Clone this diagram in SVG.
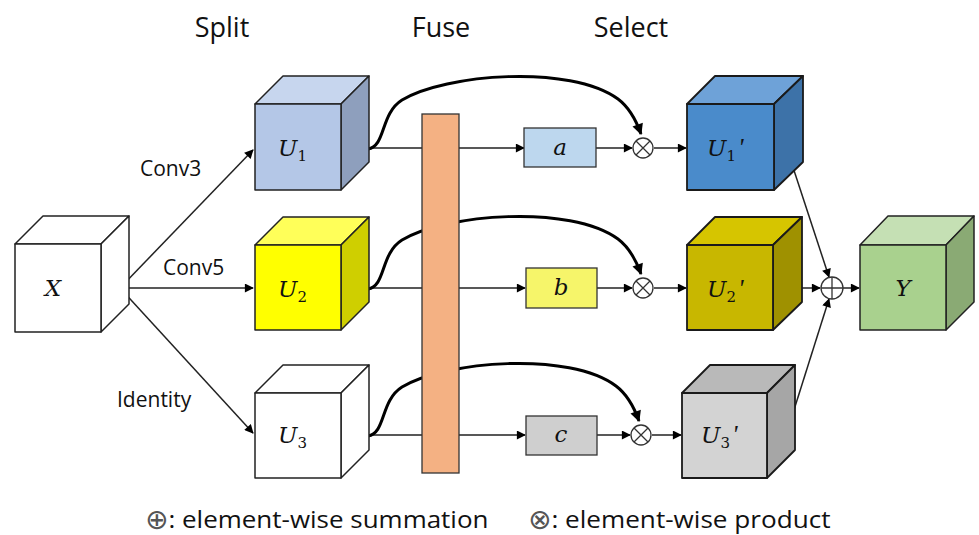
<svg xmlns="http://www.w3.org/2000/svg" width="979" height="535" viewBox="0 0 979 535">
<defs>
<marker id="ah" viewBox="0 0 10 10" refX="9" refY="5" markerWidth="11" markerHeight="9" markerUnits="userSpaceOnUse" orient="auto"><path d="M0,0 L10,5 L0,10 Z" fill="#000"/></marker>
<marker id="ahb" viewBox="0 0 10 10" refX="9" refY="5" markerWidth="13" markerHeight="11" markerUnits="userSpaceOnUse" orient="auto"><path d="M0,0 L10,5 L0,10 Z" fill="#000"/></marker>
</defs>
<style>
.edge{stroke:#222;stroke-width:1.5;fill:none}
.curve{stroke:#000;stroke-width:3;fill:none}
.cube{stroke:#222;stroke-width:1.5;stroke-linejoin:round}
.dark{stroke:#1a1a1a;stroke-width:1.8;stroke-linejoin:round}
.math{font-family:"DejaVu Serif","Liberation Serif",serif;font-style:italic;font-size:23px;fill:#111}
.sub{font-family:"DejaVu Serif","Liberation Serif",serif;font-style:normal;font-size:15px;fill:#111}
.prime{font-family:"Liberation Serif",serif;font-style:italic;font-size:26px;fill:#111}
.head{font-family:"Open Sans","Noto Sans",sans-serif;font-size:27px;fill:#111}
.lbl{font-family:"Open Sans","Noto Sans",sans-serif;font-size:21px;fill:#111}
.leg{font-family:"Open Sans","Noto Sans",sans-serif;font-size:23px;fill:#111}
.sym{font-family:"DejaVu Sans",sans-serif;font-size:28px;fill:#555}
.op{fill:#fff;stroke:#333;stroke-width:1.3}
</style>
<rect width="979" height="535" fill="#fff"/>

<text class="head" x="222" y="37" text-anchor="middle">Split</text>
<text class="head" x="441" y="37" text-anchor="middle">Fuse</text>
<text class="head" x="631" y="37" text-anchor="middle">Select</text>

<g id="connectors">
<path class="edge" d="M120,288 L253,150" marker-end="url(#ah)"/>
<path class="edge" d="M120,288 L253,288" marker-end="url(#ah)"/>
<path class="edge" d="M120,288 L253,433" marker-end="url(#ah)"/>
<path class="edge" d="M363,148 L422,148 M459,148 L524,148" marker-end="url(#ah)"/>
<path class="edge" d="M363,288 L422,288 M459,288 L525,288" marker-end="url(#ah)"/>
<path class="edge" d="M363,435 L422,435 M459,435 L525,435" marker-end="url(#ah)"/>
<path class="edge" d="M596,148 L632,148" marker-end="url(#ah)"/>
<path class="edge" d="M597,288 L632,288" marker-end="url(#ah)"/>
<path class="edge" d="M597,435 L630,435" marker-end="url(#ah)"/>
<path class="edge" d="M654,148 L686,148" marker-end="url(#ah)"/>
<path class="edge" d="M654,288 L686,288" marker-end="url(#ah)"/>
<path class="edge" d="M652,435 L681,435" marker-end="url(#ah)"/>
<path class="edge" d="M785,143 L829,277" marker-end="url(#ah)"/>
<path class="edge" d="M787,288 L820,288" marker-end="url(#ah)"/>
<path class="edge" d="M787,432 L829,299" marker-end="url(#ah)"/>
<path class="edge" d="M843,288 L859,288" marker-end="url(#ah)"/>
<path class="curve" d="M368,149 C386,146 380,114 402,100 C445,74 570,64 618,99 C630,108 636,120 641,134" marker-end="url(#ahb)"/>
<path class="curve" d="M368,289 C386,286 380,254 402,240 C445,214 570,204 618,239 C630,248 636,260 641,274" marker-end="url(#ahb)"/>
<path class="curve" d="M368,436 C386,433 380,401 402,387 C445,361 570,351 616,386 C628,395 634,407 639,421" marker-end="url(#ahb)"/>
</g>

<text class="lbl" x="140" y="176">Conv3</text>
<text class="lbl" x="163" y="275">Conv5</text>
<text class="lbl" x="117" y="407">Identity</text>

<g id="X">
<polygon class="cube" fill="#fff" points="15,244 43,216 129,216 101,244"/>
<polygon class="cube" fill="#fff" points="101,244 129,216 129,304 101,332"/>
<rect class="cube" fill="#fff" x="15" y="244" width="86" height="88"/>
<text class="math" x="53" y="296" text-anchor="middle">X</text>
</g>

<g id="U1">
<polygon class="cube" fill="#c7d6ee" points="255,104 283,76 369,76 341,104"/>
<polygon class="cube" fill="#8e9fbd" points="341,104 369,76 369,162 341,190"/>
<rect class="cube" fill="#b4c7e7" x="255" y="104" width="86" height="86"/>
<text x="278" y="156"><tspan class="math">U</tspan><tspan class="sub" dy="5">1</tspan></text>
</g>

<g id="U2">
<polygon class="cube" fill="#ffff59" points="255,245 283,217 369,217 341,245"/>
<polygon class="cube" fill="#cfcf00" points="341,245 369,217 369,302 341,330"/>
<rect class="cube" fill="#ffff00" x="255" y="245" width="86" height="85"/>
<text x="278" y="297"><tspan class="math">U</tspan><tspan class="sub" dy="5">2</tspan></text>
</g>

<g id="U3">
<polygon class="cube" fill="#fff" points="255,393 283,365 369,365 341,393"/>
<polygon class="cube" fill="#fff" points="341,393 369,365 369,450 341,478"/>
<rect class="cube" fill="#fff" x="255" y="393" width="86" height="85"/>
<text x="278" y="443"><tspan class="math">U</tspan><tspan class="sub" dy="5">3</tspan></text>
</g>

<g id="Fuse">
<rect x="422" y="114" width="37" height="359" fill="#f4b183" stroke="#333" stroke-width="1.3"/>
</g>

<g id="a">
<rect x="524" y="128" width="72" height="39" fill="#bdd7ee" stroke="#333" stroke-width="1.3"/>
<text class="math" x="560" y="155" text-anchor="middle">a</text>
</g>
<g id="b">
<rect x="526" y="268" width="71" height="40" fill="#f6f56a" stroke="#333" stroke-width="1.3"/>
<text class="math" x="561" y="295" text-anchor="middle">b</text>
</g>
<g id="c">
<rect x="526" y="416" width="71" height="39" fill="#cfcfcf" stroke="#333" stroke-width="1.3"/>
<text class="math" x="561" y="442" text-anchor="middle">c</text>
</g>

<g id="mul1">
<circle class="op" cx="643" cy="148" r="10"/>
<path d="M636,141 L650,155 M650,141 L636,155" stroke="#333" stroke-width="1.3"/>
</g>
<g id="mul2">
<circle class="op" cx="643" cy="288" r="10"/>
<path d="M636,281 L650,295 M650,281 L636,295" stroke="#333" stroke-width="1.3"/>
</g>
<g id="mul3">
<circle class="op" cx="641" cy="435" r="10"/>
<path d="M634,428 L648,442 M648,428 L634,442" stroke="#333" stroke-width="1.3"/>
</g>

<g id="U1p">
<polygon class="dark" fill="#6ea2d8" points="687,104 715,76 803,76 774,104"/>
<polygon class="dark" fill="#3d72a8" points="774,104 803,76 803,162 774,190"/>
<rect class="dark" fill="#4a8bcb" x="687" y="104" width="87" height="86"/>
<text x="707" y="156"><tspan class="math">U</tspan><tspan class="sub" dy="5">1</tspan><tspan class="prime" dx="2" dy="-5">'</tspan></text>
</g>

<g id="U2p">
<polygon class="dark" fill="#d6c500" points="687,245 715,217 802,217 773,245"/>
<polygon class="dark" fill="#9f9100" points="773,245 802,217 802,302 773,330"/>
<rect class="dark" fill="#c8b700" x="687" y="245" width="86" height="85"/>
<text x="707" y="297"><tspan class="math">U</tspan><tspan class="sub" dy="5">2</tspan><tspan class="prime" dx="2" dy="-5">'</tspan></text>
</g>

<g id="U3p">
<polygon class="dark" fill="#b9b9b9" points="682,393 710,365 795,365 767,393"/>
<polygon class="dark" fill="#a6a6a6" points="767,393 795,365 795,450 767,478"/>
<rect class="dark" fill="#d3d3d3" x="682" y="393" width="85" height="85"/>
<text x="701" y="443"><tspan class="math">U</tspan><tspan class="sub" dy="5">3</tspan><tspan class="prime" dx="2" dy="-5">'</tspan></text>
</g>

<g id="sum">
<circle class="op" cx="832" cy="288" r="11"/>
<path d="M821,288 L843,288 M832,277 L832,299" stroke="#333" stroke-width="1.3"/>
</g>

<g id="Y">
<polygon class="cube" fill="#c5e0b4" points="860,245 888,216 974,216 946,245"/>
<polygon class="cube" fill="#8aaa74" points="946,245 974,216 974,302 946,330"/>
<rect class="cube" fill="#a9d18e" x="860" y="245" width="86" height="85"/>
<text class="math" x="903" y="296" text-anchor="middle">Y</text>
</g>

<g id="legend">
<text x="145" y="529"><tspan class="sym">⊕</tspan><tspan class="leg" dy="-1" textLength="320" lengthAdjust="spacingAndGlyphs">: element-wise  summation</tspan></text>
<text x="528" y="529"><tspan class="sym">⊗</tspan><tspan class="leg" dy="-1" textLength="279" lengthAdjust="spacingAndGlyphs">: element-wise  product</tspan></text>
</g>
</svg>
